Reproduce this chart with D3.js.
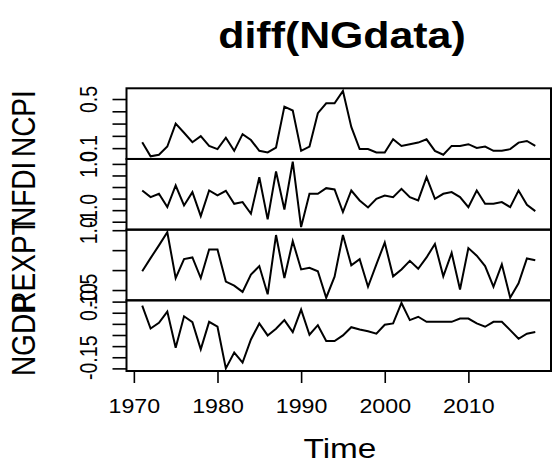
<!DOCTYPE html>
<html>
<head>
<meta charset="utf-8">
<script src="https://cdn.jsdelivr.net/npm/d3@7"></script>
<style>
body { margin: 0; background: #fff; }
text { font-family: "Liberation Sans", Arial, Helvetica, sans-serif; fill: #000; }
</style>
</head>
<body>
<div id="chart"></div>
<script>
// yearly first differences, 1971 - 2018
const years = d3.range(1971, 2019);
const seriesNames = ['NCPI', 'NFDI', 'REXPT', 'NGDP'];

const ncpi = [0.148, 0.033, 0.046, 0.113, 0.300, 0.225, 0.148, 0.198, 0.118, 0.092,
    0.185, 0.078, 0.214, 0.166, 0.078, 0.065, 0.105, 0.438, 0.406, 0.078,
    0.113, 0.385, 0.465, 0.465, 0.566, 0.273, 0.092, 0.092, 0.065, 0.065,
    0.172, 0.118, 0.132, 0.145, 0.172, 0.078, 0.046, 0.118, 0.118, 0.132,
    0.102, 0.113, 0.078, 0.078, 0.092, 0.145, 0.158, 0.118];
const nfdi = [-0.150, -0.437, -0.293, -0.868, 0.066, -0.796, -0.221, -1.256, -0.150, -0.365,
    -0.164, -0.724, -0.652, -1.155, 0.425, -1.400, 0.670, -0.970, 1.100, -1.730,
    -0.293, -0.293, -0.049, -0.106, -1.080, -0.150, -0.580, -0.882, -0.509, -0.365,
    -0.437, -0.078, -0.437, -0.580, 0.425, -0.509, -0.293, -0.221, -0.437, -0.868,
    -0.150, -0.724, -0.724, -0.652, -0.868, -0.150, -0.767, -1.040];
const rexpt = [-0.028, 0.300, 0.620, 0.948, -0.200, 0.275, 0.318, -0.200, 0.516, 0.516,
    -0.287, -0.390, -0.546, -0.114, 0.101, -0.606, 0.879, -0.200, 0.724, 0.016,
    0.059, -0.028, -0.692, -0.166, 0.879, 0.119, 0.275, -0.417, 0.145, 0.689,
    -0.157, 0.016, 0.231, 0.033, 0.318, 0.655, -0.157, 0.430, -0.486, 0.551,
    0.360, 0.101, -0.417, 0.145, -0.692, -0.329, 0.292, 0.249];
const ngdp = [0.082, -0.021, 0.005, 0.055, -0.107, 0.034, 0.008, -0.114, 0.009, -0.013,
    -0.200, -0.129, -0.174, -0.070, 0.002, -0.052, -0.022, 0.017, -0.037, 0.064,
    -0.049, -0.006, -0.077, -0.077, -0.052, -0.015, -0.025, -0.033, -0.044, -0.004,
    0.002, 0.094, 0.017, 0.032, 0.009, 0.009, 0.009, 0.009, 0.024, 0.024,
    0.002, -0.013, 0.009, 0.009, -0.028, -0.067, -0.044, -0.037];

// y ticks per panel, and the ones R kept a label for
const ncpiTicks = [0.1, 0.2, 0.3, 0.4, 0.5], ncpiLabelled = [0.1, 0.5];
const nfdiTicks = [-1.5, -1.0, -0.5, 0.0, 0.5, 1.0], nfdiLabelled = [-1.0, 1.0];
const rexptTicks = [-0.5, 0.0, 0.5, 1.0], rexptLabelled = [-0.5, 1.0];
const ngdpTicks = [-0.20, -0.15, -0.10, -0.05, 0.00, 0.05, 0.10], ngdpLabelled = [-0.15, 0.10];
const tickDecimals = [1, 1, 1, 2];

const xTicks = [1970, 1980, 1990, 2000, 2010];
const titleText = 'diff(NGdata)';
const xLabelText = 'Time';

const width = 552, height = 464;
const plot = { left: 126.5, right: 551, top: 88.3, bottom: 371 };
const stretch = 1.19; // the picture is a bit wider than tall
const panelH = (plot.bottom - plot.top) / 4;

const svg = d3.select('#chart').append('svg')
    .attr('width', width)
    .attr('height', height);

// R pads the data range by 4% on each side
function padded(ext) {
    const r = ext[1] - ext[0];
    return [ext[0] - 0.04 * r, ext[1] + 0.04 * r];
}

const xScale = d3.scaleLinear()
    .domain(padded(d3.extent(years)))
    .range([plot.left, plot.right]);

const panels = [
    { name: seriesNames[0], values: ncpi, ticks: ncpiTicks, labelled: ncpiLabelled },
    { name: seriesNames[1], values: nfdi, ticks: nfdiTicks, labelled: nfdiLabelled },
    { name: seriesNames[2], values: rexpt, ticks: rexptTicks, labelled: rexptLabelled },
    { name: seriesNames[3], values: ngdp, ticks: ngdpTicks, labelled: ngdpLabelled }
];

panels.forEach((p, i) => {
    const y0 = plot.top + i * panelH, y1 = y0 + panelH;
    const yScale = d3.scaleLinear()
        .domain(padded(d3.extent(p.values)))
        .range([y1, y0]);

    const fmt = d3.format('.' + tickDecimals[i] + 'f');
    const yAxis = svg.append('g')
        .attr('transform', 'translate(' + plot.left + ',0)')
        .call(d3.axisLeft(yScale)
            .tickValues(p.ticks)
            .tickSize(14)
            .tickFormat(d => p.labelled.includes(d) ? fmt(d).replace('\u2212', '-') : ''));
    yAxis.select('.domain').remove();
    yAxis.selectAll('line').attr('stroke-width', 1.6);
    yAxis.selectAll('text')
        .attr('x', null)
        .attr('dy', null)
        .attr('text-anchor', 'middle')
        .attr('transform', 'translate(-29.5,0) scale(' + stretch + ',1) rotate(-90)')
        .style('font-size', '19.5px')
        .style('font-family', '"Liberation Sans", Arial, sans-serif');

    // series line
    const line = d3.line()
        .x((d, k) => xScale(years[k]))
        .y(d => yScale(d));
    svg.append('path')
        .datum(p.values)
        .attr('d', line)
        .attr('fill', 'none')
        .attr('stroke', '#000')
        .attr('stroke-width', 2)
        .attr('stroke-linejoin', 'miter');

    // panel box
    svg.append('rect')
        .attr('x', plot.left)
        .attr('y', y0)
        .attr('width', plot.right - plot.left)
        .attr('height', panelH)
        .attr('fill', 'none')
        .attr('stroke', '#000')
        .attr('stroke-width', 2);

    // series name on the left
    svg.append('text')
        .attr('transform', 'translate(35,' + (y0 + panelH / 2) + ') scale(' + stretch + ',1) rotate(-90)')
        .attr('text-anchor', 'middle')
        .style('font-size', '28px')
        .text(p.name);
});

// time axis on the bottom panel only
const xAxis = svg.append('g')
    .attr('transform', 'translate(0,' + plot.bottom + ')')
    .call(d3.axisBottom(xScale)
        .tickValues(xTicks)
        .tickSize(12)
        .tickFormat(d3.format('d')));
xAxis.select('.domain').remove();
xAxis.selectAll('line').attr('stroke-width', 1.6);
xAxis.selectAll('text')
    .attr('y', null)
    .attr('dy', null)
    .attr('transform', 'translate(0,42.3) scale(' + stretch + ',1)')
    .style('font-size', '19.5px')
    .style('font-family', '"Liberation Sans", Arial, sans-serif');

svg.append('text')
    .attr('transform', 'translate(340,458) scale(' + stretch + ',1)')
    .attr('text-anchor', 'middle')
    .style('font-size', '28px')
    .text(xLabelText);

svg.append('text')
    .attr('transform', 'translate(342,47.5) scale(' + stretch + ',1)')
    .attr('text-anchor', 'middle')
    .style('font-size', '36px')
    .style('font-weight', 'bold')
    .text(titleText);
</script>
</body>
</html>
